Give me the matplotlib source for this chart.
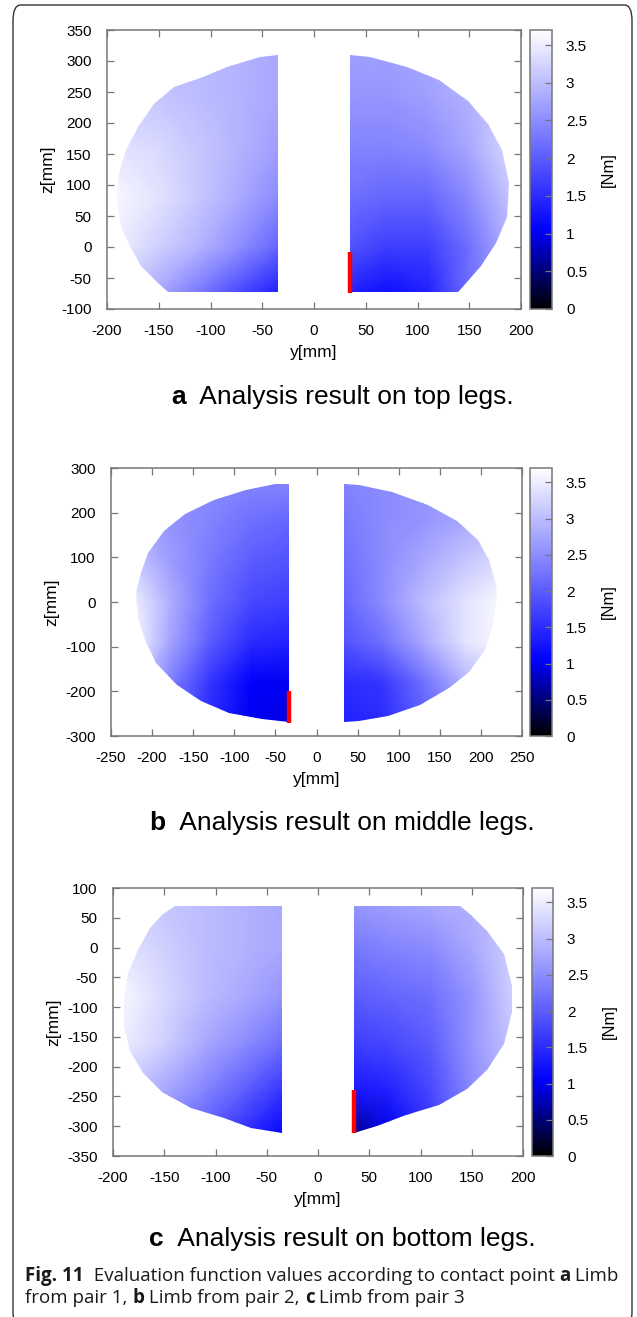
import numpy as np
import matplotlib
matplotlib.use('Agg')
from matplotlib import pyplot
from matplotlib.colors import LinearSegmentedColormap
from matplotlib.patches import Polygon, FancyBboxPatch


# ---- panel a (top legs) ----
a_left_y  = [-35, -52, -84, -107, -135, -155, -170, -182, -188, -190, -186, -178, -167, -151, -141, -35]
a_left_z  = [310, 306, 290, 274, 258, 231, 194, 156, 119, 76, 33, 1, -31, -58, -72, -72]
a_right_y = [35, 54, 90, 121, 149, 168, 182, 188, 186, 176, 161, 141, 139, 35]
a_right_z = [310, 306, 290, 269, 236, 199, 156, 103, 49, 6, -31, -69, -72, -72]
a_gl_y    = [-190, -150, -110, -70, -35]
a_gl_z    = [-72, 0, 80, 160, 240, 310]
a_gl_val  = [[3.2, 2.8, 2.3, 1.8, 1.4],
             [3.5, 3.2, 2.9, 2.5, 2.1],
             [3.6, 3.4, 3.1, 2.8, 2.5],
             [3.4, 3.3, 3.1, 2.9, 2.7],
             [3.2, 3.1, 3.0, 2.9, 2.8],
             [3.1, 3.0, 3.0, 2.9, 2.8]]
a_gr_y    = [35, 70, 110, 150, 190]
a_gr_z    = [-72, 0, 80, 160, 240, 310]
a_gr_val  = [[1.4, 1.2, 1.4, 2.2, 2.8],
             [1.9, 1.7, 1.7, 2.2, 2.9],
             [2.2, 2.1, 2.1, 2.5, 3.1],
             [2.4, 2.4, 2.5, 2.8, 3.3],
             [2.6, 2.6, 2.7, 2.9, 3.2],
             [2.7, 2.7, 2.8, 3.0, 3.2]]
a_red_y   = [35, 35]
a_red_z   = [-74, -8]

# ---- panel b (middle legs) ----
b_left_y  = [-34, -51, -86, -125, -160, -185, -205, -214, -219, -217, -209, -195, -170, -140, -106, -66, -34]
b_left_z  = [265, 264, 250, 228, 196, 160, 109, 66, 23, -35, -85, -136, -186, -222, -248, -262, -269]
b_right_y = [34, 52, 92, 136, 171, 196, 210, 218, 220, 215, 205, 186, 161, 126, 87, 52, 34]
b_right_z = [265, 262, 246, 217, 181, 138, 95, 37, 8, -49, -107, -157, -193, -230, -255, -266, -269]
b_gl_y    = [-220, -180, -130, -80, -34]
b_gl_z    = [-270, -180, -90, 0, 90, 180, 265]
b_gl_val  = [[2.8, 2.2, 1.5, 1.0, 0.95],
             [3.2, 2.4, 1.6, 1.05, 1.0],
             [3.6, 2.8, 2.0, 1.5, 1.4],
             [3.5, 2.9, 2.2, 1.8, 1.7],
             [3.1, 2.7, 2.3, 2.0, 1.9],
             [2.8, 2.6, 2.4, 2.2, 2.1],
             [2.7, 2.6, 2.5, 2.4, 2.4]]
b_gr_y    = [34, 80, 130, 180, 220]
b_gr_z    = [-270, -180, -90, 0, 90, 180, 265]
b_gr_val  = [[1.4, 1.5, 2.0, 2.6, 3.0],
             [1.5, 1.6, 2.2, 2.9, 3.2],
             [1.9, 2.2, 2.8, 3.4, 3.6],
             [2.1, 2.5, 3.0, 3.4, 3.6],
             [2.2, 2.5, 2.8, 3.1, 3.3],
             [2.3, 2.5, 2.6, 2.8, 3.0],
             [2.4, 2.5, 2.6, 2.7, 2.8]]
b_red_y   = [-34, -34]
b_red_z   = [-271, -200]

# ---- panel c (bottom legs) ----
c_left_y  = [-35, -140, -152, -164, -175, -185, -189, -189, -183, -171, -152, -124, -92, -65, -35]
c_left_z  = [70, 70, 54, 32, 0, -43, -86, -130, -173, -211, -243, -270, -286, -303, -312]
c_right_y = [35, 139, 149, 165, 181, 189, 189, 181, 165, 145, 118, 86, 58, 35]
c_right_z = [70, 70, 54, 27, -11, -65, -108, -162, -205, -238, -265, -281, -300, -312]
c_gl_y    = [-190, -150, -110, -70, -35]
c_gl_z    = [-312, -240, -160, -80, 0, 70]
c_gl_val  = [[2.8, 2.4, 2.0, 1.5, 1.1],
             [3.2, 2.8, 2.4, 2.0, 1.6],
             [3.5, 3.2, 2.8, 2.5, 2.2],
             [3.6, 3.3, 3.0, 2.8, 2.6],
             [3.4, 3.2, 3.0, 2.9, 2.8],
             [3.2, 3.1, 3.0, 2.9, 2.8]]
c_gr_y    = [35, 70, 110, 150, 190]
c_gr_z    = [-312, -240, -160, -80, 0, 70]
c_gr_val  = [[0.6, 1.0, 1.6, 2.4, 2.9],
             [1.3, 1.4, 1.8, 2.5, 3.0],
             [1.7, 1.8, 2.0, 2.6, 3.1],
             [2.0, 2.1, 2.2, 2.6, 3.2],
             [2.3, 2.4, 2.5, 2.8, 3.2],
             [2.6, 2.7, 2.8, 2.9, 3.1]]
c_red_y   = [35, 35]
c_red_z   = [-312, -239]

cbar_ticks = [0, 0.5, 1, 1.5, 2, 2.5, 3, 3.5]
cbar_labels = ['0', '0.5', '1', '1.5', '2', '2.5', '3', '3.5']
captions = [('a', 'Analysis result on top legs.'),
            ('b', 'Analysis result on middle legs.'),
            ('c', 'Analysis result on bottom legs.')]

pyplot.rcParams['font.family'] = ['Liberation Sans', 'DejaVu Sans']
pyplot.rcParams['axes.unicode_minus'] = False

W, H = 637, 1317
cmap = LinearSegmentedColormap.from_list(
    'bw', [(0, (0, 0, 0)), (1.05 / 3.7, (0, 0, 1)), (1, (1, 1, 1))])
vmax = 3.7
axcol = '#777777'


def px(l, t, r, b):
    return [l / W, 1 - b / H, (r - l) / W, (b - t) / H]


pyplot.close('all')
fig = pyplot.figure(figsize=(W / 100, H / 100), dpi=100)

# outer frame
frame = FancyBboxPatch((13 / W, -10 / H), (632 - 13) / W, (H + 10 - 5) / H,
                       boxstyle='round,pad=0,rounding_size=0.012',
                       transform=fig.transFigure, fc='none', ec='#333333', lw=1.0)
fig.patches.append(frame)

panels = [
    dict(pos=(107, 30, 521, 309), cb=(530, 552), xlim=(-200, 200), ylim=(-100, 350),
         xt=range(-200, 201, 50), yt=range(-100, 351, 50),
         halves=[(a_left_y, a_left_z, a_gl_y, a_gl_z, a_gl_val),
                 (a_right_y, a_right_z, a_gr_y, a_gr_z, a_gr_val)],
         red=(a_red_y, a_red_z), cap_y=404),
    dict(pos=(111, 468, 522, 736), cb=(530, 552), xlim=(-250, 250), ylim=(-300, 300),
         xt=range(-250, 251, 50), yt=range(-300, 301, 100),
         halves=[(b_left_y, b_left_z, b_gl_y, b_gl_z, b_gl_val),
                 (b_right_y, b_right_z, b_gr_y, b_gr_z, b_gr_val)],
         red=(b_red_y, b_red_z), cap_y=830),
    dict(pos=(113, 888, 523, 1156), cb=(532, 553), xlim=(-200, 200), ylim=(-350, 100),
         xt=range(-200, 201, 50), yt=range(-350, 101, 50),
         halves=[(c_left_y, c_left_z, c_gl_y, c_gl_z, c_gl_val),
                 (c_right_y, c_right_z, c_gr_y, c_gr_z, c_gr_val)],
         red=(c_red_y, c_red_z), cap_y=1246),
]

renderer = fig.canvas.get_renderer()

for i, p in enumerate(panels):
    l, t, r, b = p['pos']
    ax = fig.add_axes(px(l, t, r, b))
    for oy, oz, gy, gz, gv in p['halves']:
        Y, Z = np.meshgrid(gy, gz)
        m = ax.pcolormesh(Y, Z, np.array(gv), shading='gouraud', cmap=cmap,
                          vmin=0, vmax=vmax)
        poly = Polygon(np.column_stack([oy, oz]), closed=True, transform=ax.transData)
        m.set_clip_path(poly)
    ax.plot(p['red'][0], p['red'][1], color='#ff0000', lw=3.2, solid_capstyle='butt')
    ax.set_xlim(*p['xlim'])
    ax.set_ylim(*p['ylim'])
    ax.set_xticks(list(p['xt']))
    ax.set_yticks(list(p['yt']))
    ax.tick_params(direction='in', top=True, right=True, length=5, width=0.9,
                   color=axcol, labelsize=11, pad=11)
    for s in ax.spines.values():
        s.set_color(axcol)
        s.set_linewidth(1.1)
    ax.set_xlabel('y[mm]', fontsize=12.5, labelpad=5)
    ax.set_ylabel('z[mm]', fontsize=12.5, labelpad=4)

    # colorbar
    cax = fig.add_axes(px(p['cb'][0], t, p['cb'][1], b))
    cb = fig.colorbar(m, cax=cax, ticks=cbar_ticks)
    cb.outline.set_edgecolor(axcol)
    cb.outline.set_linewidth(1.1)
    cax.tick_params(direction='in', length=5, width=0.9, color=axcol,
                    labelsize=11, pad=10)
    cax.set_yticklabels(cbar_labels)
    cb.set_label('[Nm]', fontsize=12, labelpad=10)

    # caption: bold letter + text, centred
    letter, text = captions[i]
    y0 = 1 - p['cap_y'] / H
    t1 = fig.text(0, y0, letter, fontsize=19, fontweight='bold', va='baseline')
    t2 = fig.text(0, y0, '  ' + text, fontsize=19, va='baseline')
    w1 = t1.get_window_extent(renderer).width
    w2 = t2.get_window_extent(renderer).width
    x0 = 342 - (w1 + w2) / 2
    t1.set_x(x0 / W)
    t2.set_x((x0 + w1) / W)


def rich_line(x, ybase, parts, size=13.5, family='Open Sans'):
    for s, bold in parts:
        tt = fig.text(x / W, 1 - ybase / H, s, family=family, fontsize=size,
                      fontweight='bold' if bold else 'normal', va='baseline', color='#1a1a1a')
        x += tt.get_window_extent(renderer).width


rich_line(25, 1281, [('Fig. 11', True), ('  Evaluation function values according to contact point ', False),
                     ('a', True), (' Limb', False)])
rich_line(25, 1303, [('from pair 1, ', False), ('b', True), (' Limb from pair 2, ', False),
                     ('c', True), (' Limb from pair 3', False)])

fig.savefig('out.png', dpi=100)
